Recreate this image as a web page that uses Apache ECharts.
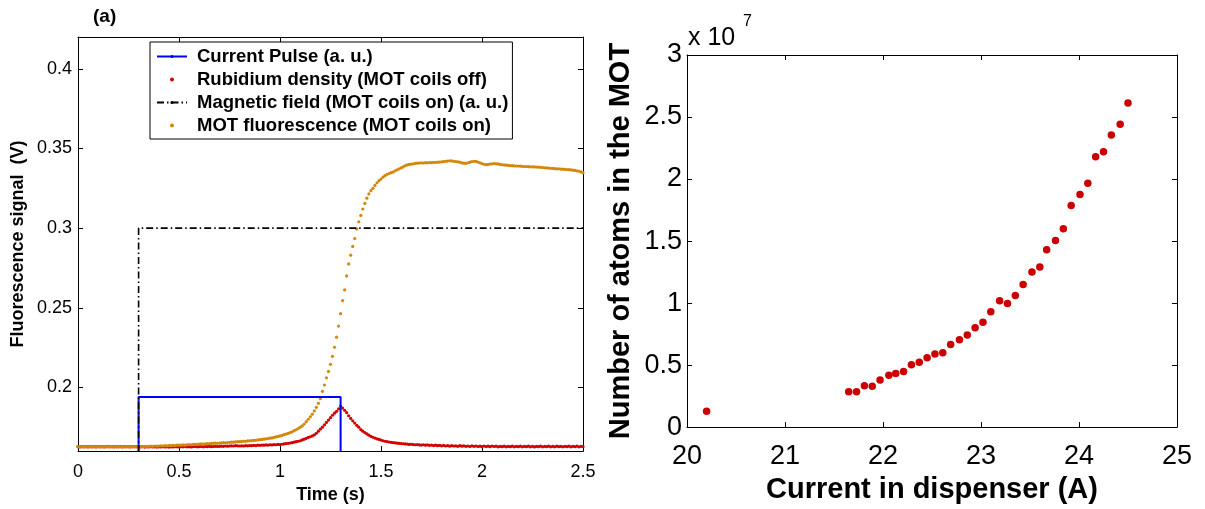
<!DOCTYPE html>
<html>
<head>
<meta charset="utf-8">
<script src="https://cdn.jsdelivr.net/npm/echarts@6/dist/echarts.min.js"></script>
<style>
html, body { margin: 0; padding: 0; background: #fff; }
#chart { width: 1205px; height: 509px; }
</style>
</head>
<body>
<div id="chart"></div>
<script>
// ---- panel (a): signals sampled every 10 ms from t = 0 ----
const sampleStart = 0
const sampleStep = 0.01

// MOT fluorescence (MOT coils on), V
const motFluo = [
  0.1627,0.1629,0.1626,0.1628,0.1627,0.1630,0.1626,0.1628,0.1627,0.1629,
  0.1626,0.1628,0.1627,0.1629,0.1627,0.1626,0.1628,0.1627,0.1629,0.1627,
  0.1628,0.1626,0.1628,0.1627,0.1629,0.1627,0.1628,0.1626,0.1628,0.1627,
  0.1628,0.1629,0.1628,0.1630,0.1629,0.1630,0.1631,0.1630,0.1632,0.1631,
  0.1632,0.1633,0.1632,0.1634,0.1633,0.1635,0.1634,0.1636,0.1635,0.1637,
  0.1637,0.1638,0.1639,0.1638,0.1640,0.1641,0.1640,0.1642,0.1643,0.1642,
  0.1644,0.1645,0.1644,0.1646,0.1647,0.1646,0.1648,0.1649,0.1650,0.1649,
  0.1651,0.1652,0.1653,0.1652,0.1654,0.1655,0.1656,0.1656,0.1658,0.1659,
  0.1659,0.1661,0.1662,0.1662,0.1664,0.1665,0.1666,0.1667,0.1668,0.1670,
  0.1672,0.1673,0.1675,0.1677,0.1679,0.1681,0.1683,0.1686,0.1689,0.1692,
  0.1695,0.1699,0.1703,0.1707,0.1711,0.1716,0.1721,0.1728,0.1734,0.1742,
  0.1750,0.1758,0.1770,0.1785,0.1800,0.1815,0.1832,0.1852,0.1875,0.1900,
  0.1930,0.1975,0.2015,0.2060,0.2100,0.2145,0.2195,0.2252,0.2315,0.2385,
  0.2463,0.2545,0.2612,0.2700,0.2775,0.2830,0.2885,0.2935,0.2995,0.3040,
  0.3080,0.3120,0.3155,0.3188,0.3215,0.3235,0.3250,0.3268,0.3285,0.3298,
  0.3308,0.3320,0.3330,0.3338,0.3343,0.3348,0.3352,0.3360,0.3366,0.3372,
  0.3378,0.3385,0.3392,0.3397,0.3400,0.3402,0.3404,0.3407,0.3408,0.3409,
  0.3410,0.3409,0.3411,0.3410,0.3412,0.3411,0.3413,0.3412,0.3414,0.3415,
  0.3416,0.3418,0.3420,0.3421,0.3423,0.3422,0.3420,0.3418,0.3416,0.3414,
  0.3410,0.3408,0.3407,0.3410,0.3414,0.3418,0.3420,0.3419,0.3415,0.3410,
  0.3405,0.3401,0.3399,0.3400,0.3402,0.3404,0.3405,0.3404,0.3403,0.3400,
  0.3398,0.3397,0.3395,0.3394,0.3393,0.3392,0.3391,0.3390,0.3390,0.3389,
  0.3388,0.3387,0.3387,0.3386,0.3385,0.3385,0.3384,0.3383,0.3383,0.3382,
  0.3380,0.3379,0.3378,0.3377,0.3376,0.3375,0.3373,0.3372,0.3372,0.3371,
  0.3370,0.3369,0.3368,0.3367,0.3366,0.3364,0.3362,0.3360,0.3357,0.3353,
  0.3348
]

// Rubidium density (MOT coils off), V
const rbDensity = [
  0.1628,0.1626,0.1629,0.1627,0.1628,0.1626,0.1629,0.1627,0.1628,0.1626,
  0.1629,0.1627,0.1628,0.1626,0.1628,0.1629,0.1627,0.1628,0.1626,0.1628,
  0.1627,0.1629,0.1626,0.1628,0.1627,0.1628,0.1626,0.1629,0.1627,0.1628,
  0.1627,0.1626,0.1628,0.1625,0.1627,0.1626,0.1628,0.1626,0.1627,0.1625,
  0.1627,0.1626,0.1628,0.1626,0.1627,0.1625,0.1627,0.1626,0.1628,0.1627,
  0.1626,0.1628,0.1627,0.1629,0.1627,0.1628,0.1626,0.1628,0.1629,0.1627,
  0.1628,0.1629,0.1627,0.1629,0.1628,0.1630,0.1628,0.1629,0.1630,0.1629,
  0.1630,0.1631,0.1630,0.1632,0.1631,0.1632,0.1633,0.1632,0.1634,0.1633,
  0.1632,0.1633,0.1632,0.1634,0.1633,0.1635,0.1634,0.1636,0.1635,0.1637,
  0.1636,0.1638,0.1637,0.1639,0.1638,0.1640,0.1639,0.1641,0.1640,0.1642,
  0.1641,0.1643,0.1645,0.1647,0.1649,0.1651,0.1653,0.1656,0.1659,0.1662,
  0.1665,0.1670,0.1675,0.1680,0.1686,0.1690,0.1695,0.1702,0.1712,0.1725,
  0.1738,0.1750,0.1765,0.1780,0.1795,0.1810,0.1825,0.1838,0.1850,0.1865,
  0.1883,0.1870,0.1856,0.1841,0.1822,0.1805,0.1790,0.1776,0.1762,0.1750,
  0.1735,0.1725,0.1716,0.1708,0.1700,0.1693,0.1687,0.1682,0.1677,0.1673,
  0.1669,0.1665,0.1662,0.1660,0.1657,0.1655,0.1653,0.1652,0.1650,0.1649,
  0.1647,0.1646,0.1645,0.1644,0.1642,0.1643,0.1641,0.1640,0.1641,0.1639,
  0.1638,0.1640,0.1637,0.1639,0.1636,0.1638,0.1635,0.1637,0.1634,0.1636,
  0.1633,0.1636,0.1632,0.1635,0.1631,0.1634,0.1632,0.1633,0.1630,0.1634,
  0.1631,0.1633,0.1630,0.1632,0.1629,0.1633,0.1630,0.1632,0.1629,0.1631,
  0.1628,0.1632,0.1629,0.1631,0.1628,0.1632,0.1629,0.1631,0.1627,0.1630,
  0.1628,0.1631,0.1627,0.1630,0.1628,0.1631,0.1627,0.1630,0.1628,0.1631,
  0.1627,0.1630,0.1628,0.1631,0.1627,0.1630,0.1626,0.1630,0.1628,0.1631,
  0.1627,0.1630,0.1628,0.1631,0.1627,0.1630,0.1627,0.1631,0.1628,0.1630,
  0.1627,0.1630,0.1628,0.1631,0.1627,0.1630,0.1628,0.1631,0.1627,0.1630,
  0.1628
]

// current pulse and magnetic field, drawn as step outlines (a. u.)
const pulseTime = [0.3, 0.3, 1.3, 1.3]
const pulseLevel = [0.15, 0.194, 0.194, 0.15]
const fieldTime = [0.3, 0.3, 2.5]
const fieldLevel = [0.15, 0.3, 0.3]

const leftYTicks = [0.2, 0.25, 0.3, 0.35, 0.4]

// ---- right panel: atom number vs dispenser current ----
const dispenserCurrent = [
  20.20, 21.65, 21.73, 21.81, 21.89, 21.97, 22.06, 22.13, 22.21, 22.29,
  22.37, 22.45, 22.53, 22.61, 22.69, 22.78, 22.86, 22.94, 23.02, 23.10,
  23.19, 23.27, 23.35, 23.43, 23.52, 23.60, 23.67, 23.76, 23.84, 23.92,
  24.01, 24.09, 24.17, 24.25, 24.33, 24.42, 24.50
]
// in units of 1e7 atoms
const atomNumber = [
  0.127, 0.284, 0.285, 0.333, 0.330, 0.380, 0.419, 0.432, 0.448, 0.502,
  0.523, 0.560, 0.590, 0.600, 0.666, 0.705, 0.742, 0.802, 0.846, 0.930,
  1.018, 0.997, 1.062, 1.150, 1.250, 1.290, 1.430, 1.505, 1.600, 1.786,
  1.875, 1.966, 2.180, 2.220, 2.356, 2.442, 2.614
]

const FONT = "'Liberation Sans', Arial, Helvetica, sans-serif"

const pairs = (xs, ys) => xs.map((x, i) => [x, ys[i]])
const sampled = (ys) => ys.map((v, i) => [+(sampleStart + i * sampleStep).toFixed(2), v])

const axisBase = {
  type: 'value',
  splitLine: { show: false },
  axisLine: { show: true, onZero: false, lineStyle: { color: '#000', width: 1 } },
  axisTick: { show: true, inside: true, length: 5, lineStyle: { color: '#000', width: 1 } }
}
const mirror = (extra) => Object.assign({}, axisBase, { axisLabel: { show: false } }, extra)

const chart = echarts.init(document.getElementById('chart'), null, { renderer: 'canvas' })

chart.setOption({
  backgroundColor: '#fff',
  animation: false,
  textStyle: { fontFamily: FONT },
  grid: [
    { left: 78, top: 37, width: 505, height: 418 },
    { left: 687, top: 55, width: 490, height: 384 }
  ],
  legend: {
    orient: 'vertical',
    left: 150,
    top: 42,
    padding: [5, 4, 4, 6],
    itemGap: 4,
    itemWidth: 30,
    itemHeight: 4,
    borderColor: '#000',
    borderWidth: 1,
    backgroundColor: '#fff',
    textStyle: { fontSize: 18.5, fontWeight: 'bold', color: '#000', fontFamily: FONT, padding: [0, 0, 0, 5] },
    data: [
      'Current Pulse (a. u.)',
      'Rubidium density (MOT coils off)',
      'Magnetic field (MOT coils on) (a. u.)',
      'MOT fluorescence (MOT coils on)'
    ]
  },
  graphic: [
    { type: 'text', left: 93, top: 7, style: { text: '(a)', font: 'bold 19px ' + FONT, fill: '#000' } },
    { type: 'text', left: 688, top: 26, style: { text: 'x 10', font: '25px ' + FONT, fill: '#000' } },
    { type: 'text', left: 743, top: 14, style: { text: '7', font: '16px ' + FONT, fill: '#000' } }
  ],
  xAxis: [
    Object.assign({}, axisBase, {
      gridIndex: 0, position: 'bottom', min: 0, max: 2.5, interval: 0.5,
      name: 'Time (s)', nameLocation: 'middle', nameGap: 29,
      nameTextStyle: { fontSize: 18, fontWeight: 'bold', color: '#000', fontFamily: FONT },
      axisLabel: { fontSize: 18, color: '#000', margin: 12, fontFamily: FONT }
    }),
    mirror({ gridIndex: 0, position: 'top', min: 0, max: 2.5, interval: 0.5 }),
    Object.assign({}, axisBase, {
      gridIndex: 1, position: 'bottom', min: 20, max: 25, interval: 1,
      name: 'Current in dispenser (A)', nameLocation: 'middle', nameGap: 39,
      nameTextStyle: { fontSize: 29, fontWeight: 'bold', color: '#000', fontFamily: FONT },
      axisLabel: { fontSize: 27, color: '#000', margin: 16, fontFamily: FONT }
    }),
    mirror({ gridIndex: 1, position: 'top', min: 20, max: 25, interval: 1 })
  ],
  yAxis: [
    Object.assign({}, axisBase, {
      gridIndex: 0, position: 'left', min: 0.16, max: 0.42,
      name: 'Fluorescence signal  (V)', nameLocation: 'middle', nameGap: 51,
      nameTextStyle: { fontSize: 18, fontWeight: 'bold', color: '#000', fontFamily: FONT },
      axisLabel: { fontSize: 18, color: '#000', margin: 6, fontFamily: FONT, customValues: leftYTicks },
      axisTick: Object.assign({}, axisBase.axisTick, { customValues: leftYTicks })
    }),
    mirror({
      gridIndex: 0, position: 'right', min: 0.16, max: 0.42,
      axisTick: Object.assign({}, axisBase.axisTick, { customValues: leftYTicks })
    }),
    Object.assign({}, axisBase, {
      gridIndex: 1, position: 'left', min: 0, max: 3, interval: 0.5,
      name: 'Number of atoms in the MOT', nameLocation: 'middle', nameGap: 52,
      nameTextStyle: { fontSize: 29, fontWeight: 'bold', color: '#000', fontFamily: FONT },
      axisLabel: { fontSize: 27, color: '#000', margin: 5, fontFamily: FONT }
    }),
    mirror({ gridIndex: 1, position: 'right', min: 0, max: 3, interval: 0.5 })
  ],
  series: [
    {
      name: 'Current Pulse (a. u.)', type: 'line', xAxisIndex: 0, yAxisIndex: 0,
      data: pairs(pulseTime, pulseLevel), symbol: 'none', clip: true,
      lineStyle: { color: '#0000ff', width: 2 }, itemStyle: { color: '#0000ff' }
    },
    {
      name: 'Rubidium density (MOT coils off)', type: 'scatter', xAxisIndex: 0, yAxisIndex: 0,
      data: sampled(rbDensity), symbol: 'circle', symbolSize: 3.2,
      itemStyle: { color: '#d40000', opacity: 1 }
    },
    {
      name: 'Magnetic field (MOT coils on) (a. u.)', type: 'line', xAxisIndex: 0, yAxisIndex: 0,
      data: pairs(fieldTime, fieldLevel), symbol: 'none', clip: true,
      lineStyle: { color: '#000', width: 1.6, type: [7, 3, 1.5, 3] }, itemStyle: { color: '#000' }
    },
    {
      name: 'MOT fluorescence (MOT coils on)', type: 'scatter', xAxisIndex: 0, yAxisIndex: 0,
      data: sampled(motFluo), symbol: 'circle', symbolSize: 3.2,
      itemStyle: { color: '#d4870a', opacity: 1 }
    },
    {
      name: 'atoms', type: 'scatter', xAxisIndex: 2, yAxisIndex: 2,
      data: pairs(dispenserCurrent, atomNumber), symbol: 'circle', symbolSize: 7.5,
      itemStyle: { color: '#cc0000', opacity: 1 }
    }
  ]
})
</script>
</body>
</html>
